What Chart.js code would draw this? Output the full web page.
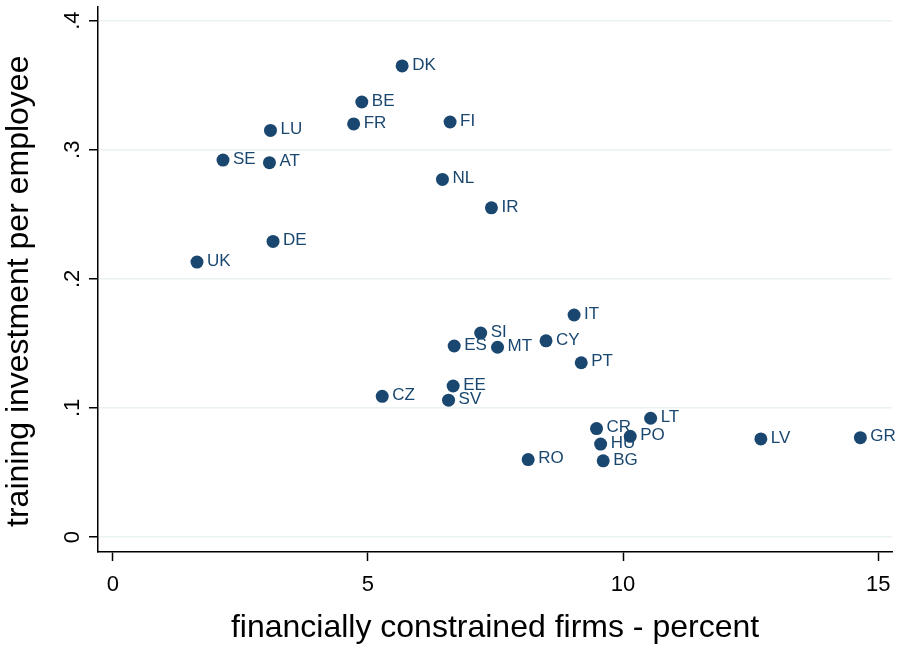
<!DOCTYPE html>
<html>
<head>
<meta charset="utf-8">
<script src="https://cdn.jsdelivr.net/npm/chart.js@4/dist/chart.umd.min.js"></script>
<style>
  html, body { margin: 0; padding: 0; background: #fff; }
  #wrap { width: 906px; height: 650px; position: relative; }
</style>
</head>
<body>
<div id="wrap"><canvas id="chart"></canvas></div>
<script>
// country codes and values
const countries = ["DK", "BE", "FR", "FI", "LU", "SE", "AT", "NL", "IR", "DE", "UK",
    "IT", "SI", "ES", "MT", "CY", "PT", "EE", "CZ", "SV",
    "LT", "CR", "PO", "HU", "LV", "GR", "RO", "BG"];
const constrainedPct = [5.67, 4.88, 4.72, 6.61, 3.09, 2.16, 3.07, 6.46, 7.42, 3.14, 1.65,
    9.04, 7.21, 6.69, 7.54, 8.49, 9.18, 6.67, 5.28, 6.58,
    10.54, 9.48, 10.14, 9.56, 12.70, 14.65, 8.14, 9.61];
const trainingPerEmp = [0.365, 0.337, 0.320, 0.3215, 0.315, 0.292, 0.290, 0.277, 0.255, 0.229, 0.213,
    0.172, 0.158, 0.148, 0.147, 0.152, 0.135, 0.117, 0.109, 0.106,
    0.092, 0.084, 0.078, 0.072, 0.076, 0.077, 0.060, 0.059];

const xTicks = [0, 5, 10, 15];
const xTickLabels = ["0", "5", "10", "15"];
const yTicks = [0, 0.1, 0.2, 0.3, 0.4];
const yTickLabels = ["0", ".1", ".2", ".3", ".4"];

const xTitle = "financially constrained firms - percent";
const yTitle = "training investment per employee";

const navy = "#1a476f";
const FONT = "'Liberation Sans', Arial, sans-serif";

Chart.defaults.font.family = FONT;
Chart.defaults.color = "#000";

// labels next to points, y tick labels and y title (rotated like stata)
const extras = {
    id: "extras",
    afterDatasetsDraw(chart) {
        const ctx = chart.ctx;
        const xs = chart.scales.x, ys = chart.scales.y;
        ctx.save();
        ctx.fillStyle = navy;
        ctx.font = "17px " + FONT;
        ctx.textAlign = "left";
        ctx.textBaseline = "middle";
        countries.forEach((c, i) => {
            const px = xs.getPixelForValue(constrainedPct[i]);
            const py = ys.getPixelForValue(trainingPerEmp[i]);
            ctx.fillText(c, px + 10, py - 1);
        });
        ctx.restore();
    },
    afterDraw(chart) {
        const ctx = chart.ctx;
        const ys = chart.scales.y;
        ctx.save();
        ctx.fillStyle = "#000";
        ctx.font = "22px " + FONT;
        ctx.textAlign = "center";
        ctx.textBaseline = "alphabetic";
        yTicks.forEach((v, i) => {
            const py = ys.getPixelForValue(v);
            ctx.save();
            ctx.translate(78.5, py);
            ctx.rotate(-Math.PI / 2);
            ctx.fillText(yTickLabels[i], 0, 0);
            ctx.restore();
        });
        const area = chart.chartArea;
        ctx.font = "32px " + FONT;
        ctx.translate(28, (area.top + area.bottom) / 2 + 12);
        ctx.rotate(-Math.PI / 2);
        ctx.fillText(yTitle, 0, 0);
        ctx.restore();
    }
};

new Chart(document.getElementById("chart"), {
    type: "scatter",
    data: {
        datasets: [{
            data: constrainedPct.map((x, i) => ({ x: x, y: trainingPerEmp[i] })),
            backgroundColor: navy,
            borderColor: navy,
            borderWidth: 0,
            pointRadius: 6.5,
            pointHoverRadius: 6.5
        }]
    },
    plugins: [extras],
    options: {
        responsive: true,
        maintainAspectRatio: false,
        animation: false,
        layout: { padding: { left: 0, right: 14, top: 5, bottom: 0 } },
        plugins: {
            legend: { display: false },
            tooltip: { enabled: false }
        },
        scales: {
            x: {
                type: "linear",
                min: -0.29,
                max: 15.27,
                afterBuildTicks: s => { s.ticks = xTicks.map(v => ({ value: v })); },
                afterFit: s => { s.height = 98; },
                ticks: {
                    padding: 11,
                    font: { size: 22 },
                    color: "#000",
                    maxRotation: 0,
                    callback: (v, i) => xTickLabels[i]
                },
                grid: {
                    drawOnChartArea: false,
                    drawTicks: true,
                    tickLength: 9,
                    tickColor: "#000",
                    tickWidth: 1.5
                },
                border: { display: true, color: "#000", width: 1.5 },
                title: {
                    display: true,
                    text: xTitle,
                    color: "#000",
                    font: { size: 32 },
                    padding: { top: 0, bottom: 3 }
                }
            },
            y: {
                type: "linear",
                min: -0.0116,
                max: 0.411,
                afterBuildTicks: s => { s.ticks = yTicks.map(v => ({ value: v })); },
                afterFit: s => { s.width = 98; },
                ticks: { display: false },
                grid: {
                    color: "#eaf2f3",
                    lineWidth: 1.5,
                    drawTicks: true,
                    tickLength: 9,
                    tickColor: "#000",
                    tickWidth: 1.5
                },
                border: { display: true, color: "#000", width: 1.5 }
            }
        }
    }
});
</script>
</body>
</html>
